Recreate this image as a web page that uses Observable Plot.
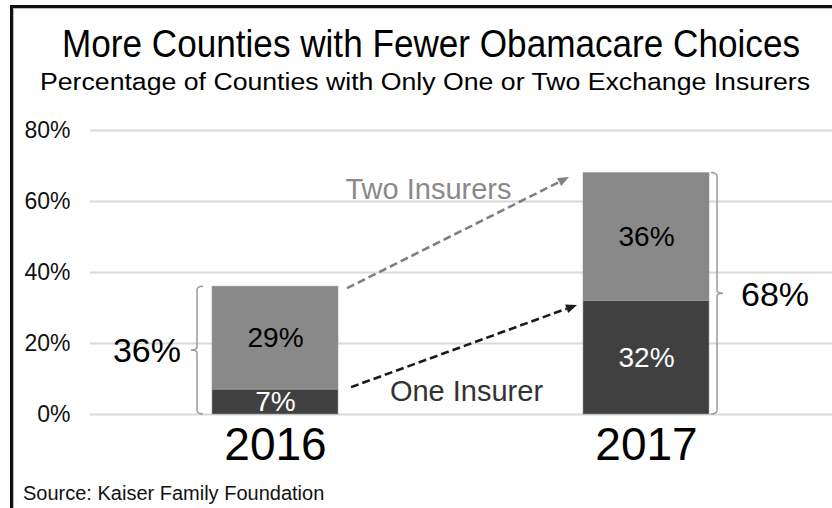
<!DOCTYPE html>
<html>
<head>
<meta charset="utf-8">
<script src="https://cdn.jsdelivr.net/npm/d3@7"></script>
<script src="https://cdn.jsdelivr.net/npm/@observablehq/plot@0.6"></script>
<style>
  html, body { margin: 0; padding: 0; background: #fff; }
  #frame { position: relative; width: 832px; height: 508px; overflow: hidden; background: #fff;
           font-family: "Liberation Sans", Arial, Helvetica, sans-serif; color: #000; }
  #border { position: absolute; left: 10px; top: 5px; width: 900px; height: 700px;
            border-left: 3px solid #111; border-top: 3px solid #111; box-shadow: inset 1px 1px 0 #bbb; }
  .hd { position: absolute; white-space: nowrap; line-height: 1; transform-origin: 0 0; }
  #title { font-size: 39px; top: 24px; }
  #subtitle { font-size: 23px; top: 71px; }
  #caption { position: absolute; left: 23px; top: 483px; font-size: 20px; line-height: 1; white-space: nowrap; color: #111; }
  #chart { position: absolute; left: 0; top: 108px; }
</style>
</head>
<body>
<div id="frame">
  <div id="border"></div>
  <div id="title" class="hd">More Counties with Fewer Obamacare Choices</div>
  <div id="subtitle" class="hd">Percentage of Counties with Only One or Two Exchange Insurers</div>
  <div id="chart"></div>
  <div id="caption">Source: Kaiser Family Foundation</div>
</div>
<script>
// ---- data ----
const years = ["2016", "2017"];
const oneInsurer = [7, 32];
const twoInsurers = [29, 36];
const totals = [36, 68];
const seriesNames = ["One Insurer", "Two Insurers"];
const yTicks = [0, 20, 40, 60, 80];

const rows = years.flatMap((yr, i) => [
  {year: yr, series: seriesNames[0], value: oneInsurer[i]},
  {year: yr, series: seriesNames[1], value: twoInsurers[i]}
]);

// ---- header fitting (condensed look of the original) ----
function fit(id, target, center) {
  const el = document.getElementById(id);
  const w = el.getBoundingClientRect().width;
  const s = target / w;
  el.style.transform = `scaleX(${s})`;
  el.style.left = (center - target / 2) + "px";
}
fit("title", 738, 431);
fit("subtitle", 770, 425);

// ---- annotation mark drawn through the plot's scales ----
function annotations(index, scales) {
  const x = scales.x, y = scales.y, bw = x.bandwidth;
  const bwv = typeof bw === "function" ? bw() : bw;
  const g = d3.create("svg:g");
  const x16 = x(years[0]), x17 = x(years[1]);

  // brackets
  const bracket = (bx, yTop, yBot, dir) => {
    const c = 6 * dir, t = -6 * dir, ym = (yTop + yBot) / 2;
    return `M${bx + c},${yTop} Q${bx},${yTop} ${bx},${yTop + 4} L${bx},${ym - 3} Q${bx},${ym} ${bx + t},${ym} ` +
           `Q${bx},${ym} ${bx},${ym + 3} L${bx},${yBot - 4} Q${bx},${yBot} ${bx + c},${yBot}`;
  };
  g.append("path").attr("d", bracket(x16 - 15, y(totals[0]), y(0), 1))
    .attr("fill", "none").attr("stroke", "#999").attr("stroke-width", 1.5);
  g.append("path").attr("d", bracket(x17 + bwv + 8, y(totals[1]), y(0), -1))
    .attr("fill", "none").attr("stroke", "#999").attr("stroke-width", 1.5);

  // totals
  g.append("text").text(totals[0] + "%").attr("x", x16 - 31).attr("y", (y(totals[0]) + y(0)) / 2)
    .attr("text-anchor", "end").attr("dy", "0.36em").attr("font-size", 34).attr("fill", "#000");
  g.append("text").text(totals[1] + "%").attr("x", x17 + bwv + 32).attr("y", (y(totals[1]) + y(0)) / 2)
    .attr("text-anchor", "start").attr("dy", "0.36em").attr("font-size", 34).attr("fill", "#000");

  // arrows
  const arrow = (xa, ya, xb, yb, color) => {
    const ang = Math.atan2(yb - ya, xb - xa), L = 11, H = 4.5;
    const bxp = xb - L * Math.cos(ang), byp = yb - L * Math.sin(ang);
    g.append("line").attr("x1", xa).attr("y1", ya).attr("x2", bxp).attr("y2", byp)
      .attr("stroke", color).attr("stroke-width", 2.6).attr("stroke-dasharray", "8,4");
    const px = -Math.sin(ang) * H, py = Math.cos(ang) * H;
    g.append("path").attr("d", `M${xb},${yb} L${bxp + px},${byp + py} L${bxp - px},${byp - py} Z`).attr("fill", color);
  };
  arrow(x16 + bwv + 9, y(totals[0]) + 2, x17 - 14, y(totals[1]) + 4.5, "#808080");
  arrow(x16 + bwv + 13, y(oneInsurer[0]) - 2, x17 - 6, y(oneInsurer[1]) + 4.5, "#1a1a1a");

  // series labels
  const gapMid = (x16 + bwv + x17) / 2;
  g.append("text").text(seriesNames[1]).attr("x", gapMid - 32).attr("y", y(60.6))
    .attr("text-anchor", "middle").attr("font-size", 29).attr("fill", "#8a8a8a");
  g.append("text").text(seriesNames[0]).attr("x", gapMid + 6).attr("y", y(3.6))
    .attr("text-anchor", "middle").attr("font-size", 29).attr("fill", "#333");
  return g.node();
}

const chart = Plot.plot({
  width: 832,
  height: 370,
  marginLeft: 90,
  marginRight: 0,
  marginTop: 22,
  marginBottom: 64,
  style: {fontFamily: "'Liberation Sans', Arial, Helvetica, sans-serif", background: "transparent", overflow: "visible"},
  x: {domain: years, paddingInner: 0.66, paddingOuter: 0.33, label: null},
  y: {domain: [0, 80], label: null},
  color: {domain: seriesNames, range: ["#404040", "#898989"]},
  marks: [
    Plot.ruleY(yTicks, {stroke: "#d9d9d9", strokeWidth: 2}),
    Plot.axisY({ticks: yTicks, tickSize: 0, tickPadding: 20, tickFormat: d => d + "%", fontSize: 23, fill: "#111", label: null}),
    Plot.axisX({tickSize: 0, tickPadding: 13, fontSize: 46, fill: "#000", label: null}),
    Plot.barY(rows, {x: "year", y: "value", fill: "series", stroke: "#9a9a9a", strokeWidth: 0.8, strokeOpacity: 0.7}),
    Plot.text(rows.filter(d => d.series === seriesNames[0]),
      Plot.stackY({x: "year", y: "value", text: d => d.value + "%", fill: "#fff", fontSize: 28})),
    Plot.text(rows, Plot.stackY({x: "year", y: "value", text: d => d.series === seriesNames[1] ? d.value + "%" : "", fill: "#000", fontSize: 28})),
    annotations
  ]
});
document.getElementById("chart").appendChild(chart);
</script>
</body>
</html>
